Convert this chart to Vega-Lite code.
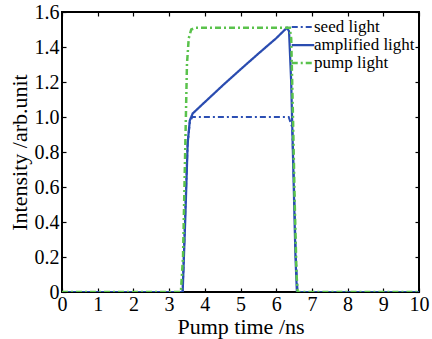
{
  "$schema": "https://vega.github.io/schema/vega-lite/v6.json",
  "autosize": {"type": "none"},
  "width": 357,
  "height": 280,
  "padding": {"left": 62, "top": 12, "right": 13, "bottom": 47},
  "background": "white",
  "config": {
    "font": "Liberation Serif",
    "view": {"stroke": "black", "strokeWidth": 2},
    "axis": {"grid": false, "domain": false, "tickColor": "black", "tickSize": -4, "tickWidth": 1.2, "labelColor": "black", "titleColor": "black", "labelFont": "Liberation Serif", "titleFont": "Liberation Serif", "labelFontSize": 20, "titleFontSize": 22, "titleFontWeight": "normal"}
  },
  "data": {"values": [
    {"t": 0, "v": 0, "s": "seed light"},
    {"t": 3.38, "v": 0, "s": "seed light"},
    {"t": 3.45, "v": 0.45, "s": "seed light"},
    {"t": 3.52, "v": 0.85, "s": "seed light"},
    {"t": 3.58, "v": 0.97, "s": "seed light"},
    {"t": 3.65, "v": 1.0, "s": "seed light"},
    {"t": 6.35, "v": 1.0, "s": "seed light"},
    {"t": 6.45, "v": 0.94, "s": "seed light"},
    {"t": 6.5, "v": 0.6, "s": "seed light"},
    {"t": 6.55, "v": 0.2, "s": "seed light"},
    {"t": 6.6, "v": 0, "s": "seed light"},
    {"t": 10, "v": 0, "s": "seed light"},
    {"t": 0, "v": 0, "s": "amplified light"},
    {"t": 3.38, "v": 0, "s": "amplified light"},
    {"t": 3.45, "v": 0.4, "s": "amplified light"},
    {"t": 3.52, "v": 0.85, "s": "amplified light"},
    {"t": 3.58, "v": 0.98, "s": "amplified light"},
    {"t": 3.66, "v": 1.02, "s": "amplified light"},
    {"t": 4.0, "v": 1.085, "s": "amplified light"},
    {"t": 4.5, "v": 1.18, "s": "amplified light"},
    {"t": 5.0, "v": 1.272, "s": "amplified light"},
    {"t": 5.5, "v": 1.362, "s": "amplified light"},
    {"t": 6.0, "v": 1.45, "s": "amplified light"},
    {"t": 6.3, "v": 1.51, "s": "amplified light"},
    {"t": 6.36, "v": 1.49, "s": "amplified light"},
    {"t": 6.42, "v": 1.2, "s": "amplified light"},
    {"t": 6.48, "v": 0.7, "s": "amplified light"},
    {"t": 6.54, "v": 0.2, "s": "amplified light"},
    {"t": 6.58, "v": 0, "s": "amplified light"},
    {"t": 10, "v": 0, "s": "amplified light"},
    {"t": 0, "v": 0, "s": "pump light"},
    {"t": 3.33, "v": 0, "s": "pump light"},
    {"t": 3.39, "v": 0.2, "s": "pump light"},
    {"t": 3.45, "v": 0.8, "s": "pump light"},
    {"t": 3.5, "v": 1.3, "s": "pump light"},
    {"t": 3.55, "v": 1.45, "s": "pump light"},
    {"t": 3.62, "v": 1.5, "s": "pump light"},
    {"t": 3.75, "v": 1.51, "s": "pump light"},
    {"t": 6.38, "v": 1.51, "s": "pump light"},
    {"t": 6.42, "v": 1.45, "s": "pump light"},
    {"t": 6.47, "v": 1.0, "s": "pump light"},
    {"t": 6.52, "v": 0.5, "s": "pump light"},
    {"t": 6.57, "v": 0.1, "s": "pump light"},
    {"t": 6.6, "v": 0, "s": "pump light"},
    {"t": 10, "v": 0, "s": "pump light"}
  ]},
  "resolve": {"axis": {"x": "independent", "y": "independent"}},
  "layer": [
    {
      "mark": {"type": "line", "opacity": 0},
      "encoding": {
        "x": {"field": "t", "type": "quantitative", "scale": {"domain": [0, 10], "nice": false}, "axis": {"orient": "top", "title": null, "labels": false, "values": [0,1,2,3,4,5,6,7,8,9,10]}},
        "y": {"field": "v", "type": "quantitative", "scale": {"domain": [0, 1.6], "nice": false}, "axis": {"orient": "right", "title": null, "labels": false, "values": [0,0.2,0.4,0.6,0.8,1.0,1.2,1.4,1.6]}}
      }
    },
    {
      "mark": {"type": "line", "clip": true},
      "encoding": {
        "x": {"field": "t", "type": "quantitative", "scale": {"domain": [0, 10], "nice": false}, "axis": {"orient": "bottom", "title": "Pump time /ns", "values": [0,1,2,3,4,5,6,7,8,9,10], "labelPadding": 6, "titlePadding": 2, "labelFlush": false}},
        "y": {"field": "v", "type": "quantitative", "scale": {"domain": [0, 1.6], "nice": false}, "axis": {"orient": "left", "title": "Intensity /arb.unit", "values": [0,0.2,0.4,0.6,0.8,1.0,1.2,1.4,1.6], "labelExpr": "datum.value == 0 ? '0' : format(datum.value, '.1f')", "labelPadding": 7, "titlePadding": 3, "labelFlush": false}},
        "color": {"field": "s", "type": "nominal", "scale": {"domain": ["seed light", "amplified light", "pump light"], "range": ["#2c4fb3", "#2a4cb0", "#5ac24c"]}, "legend": {"title": null, "orient": "none", "legendX": 231, "legendY": 5, "labelFontSize": 17, "labelFont": "Liberation Serif", "labelColor": "black", "symbolType": "M-1.3,0L1.3,0", "symbolSize": 300, "rowPadding": -7, "labelOffset": 1, "padding": 0}},
        "strokeDash": {"field": "s", "type": "nominal", "scale": {"domain": ["seed light", "amplified light", "pump light"], "range": [[6,3,2,3], [1,0], [6,3,2,3]]}},
        "strokeWidth": {"field": "s", "type": "nominal", "scale": {"domain": ["seed light", "amplified light", "pump light"], "range": [2, 2.5, 2.5]}},
        "order": {"field": "t", "type": "quantitative"}
      }
    }
  ]
}
